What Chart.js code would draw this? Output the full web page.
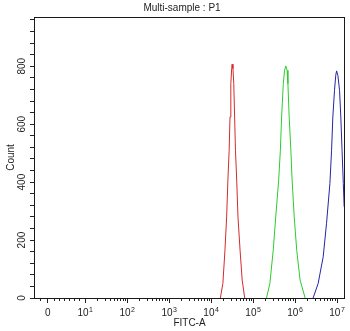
<!DOCTYPE html>
<html>
<head>
<meta charset="utf-8">
<script src="https://cdn.jsdelivr.net/npm/chart.js@4"></script>
<style>
  html, body { margin: 0; padding: 0; background: #fff; }
</style>
</head>
<body>
<canvas id="histChart" width="350" height="331"></canvas>
<script>
// Display axis for FITC-A is in decades: 10^k sits at position k
const xMin = -0.22;
const xMax = 7.19;

// Major ticks and their labels ("0", then 10^1 .. 10^7)
const majorTicks = [0.11, 1, 2, 3, 4, 5, 6, 7];
const tickBase = ["0", "10", "10", "10", "10", "10", "10", "10"];
const tickExp = ["", "1", "2", "3", "4", "5", "6", "7"];

// Minor ticks in the linear region around zero
const lowMinorTicks = [-0.07, 0.27, 0.39, 0.51, 0.63, 0.75, 0.87];

// Count axis
const yMax = 970;
const yTickStep = 40;
const yLabels = [0, 200, 400, 600, 800];

// Sample histograms (position in decades, count)
const redX = [4.22, 4.28, 4.33, 4.37, 4.40, 4.43, 4.45, 4.47, 4.49, 4.50, 4.52, 4.54, 4.56, 4.58, 4.61, 4.64, 4.69, 4.74, 4.80];
const redY = [0, 50, 165, 280, 407, 510, 625, 740, 792, 807, 792, 740, 625, 510, 407, 280, 165, 62, 0];

const greenX = [5.32, 5.40, 5.48, 5.54, 5.61, 5.65, 5.68, 5.72, 5.75, 5.78, 5.81, 5.83, 5.86, 5.90, 5.93, 5.98, 6.04, 6.12, 6.24];
const greenY = [0, 50, 165, 280, 407, 510, 625, 740, 786, 801, 786, 740, 625, 510, 407, 280, 165, 62, 0];

const blueX = [6.43, 6.55, 6.67, 6.75, 6.83, 6.87, 6.90, 6.94, 6.97, 6.99, 7.02, 7.06, 7.09, 7.12, 7.15, 7.17, 7.19];
const blueY = [0, 50, 142, 258, 395, 510, 625, 717, 769, 784, 769, 717, 625, 510, 395, 315, 317];

const textColor = "#222";
const lineFont = "Liberation Sans, Arial, sans-serif";

function points(xs, ys) {
  return xs.map((x, i) => ({ x: x, y: ys[i] }));
}

// log-spaced minor ticks inside each decade
const minorTicks = lowMinorTicks.slice();
for (let k = 1; k < 7; k++) {
  for (let m = 2; m <= 9; m++) minorTicks.push(k + Math.log10(m));
}

const yTicks = [];
for (let v = 0; v < yMax; v += yTickStep) yTicks.push(v);

// plot frame plus the hand-placed texts (title, rotated count labels, 10^k labels)
const framePlugin = {
  id: "frameAndLabels",
  afterDatasetsDraw(chart) {
    const { ctx, chartArea } = chart;
    ctx.save();
    ctx.strokeStyle = "#1a1a1a";
    ctx.lineWidth = 1;
    ctx.strokeRect(chartArea.left + 0.5, chartArea.top + 0.5,
      chartArea.right - chartArea.left - 1, chartArea.bottom - chartArea.top);
    ctx.restore();
  },
  afterDraw(chart) {
    const { ctx } = chart;
    const xs = chart.scales.x;
    const ys = chart.scales.y;
    ctx.save();
    ctx.fillStyle = textColor;

    ctx.font = "10px " + lineFont;
    ctx.textAlign = "center";
    ctx.textBaseline = "middle";
    ctx.fillText("Multi-sample : P1", 182, 8);

    // x labels with superscript exponent
    ctx.textBaseline = "alphabetic";
    majorTicks.forEach((v, i) => {
      const px = xs.getPixelForValue(v);
      ctx.font = "10px " + lineFont;
      const wb = ctx.measureText(tickBase[i]).width;
      ctx.font = "7px " + lineFont;
      const we = tickExp[i] ? ctx.measureText(tickExp[i]).width + 0.5 : 0;
      const left = px - (wb + we) / 2;
      ctx.textAlign = "left";
      ctx.font = "10px " + lineFont;
      ctx.fillText(tickBase[i], left, 316);
      if (tickExp[i]) {
        ctx.font = "7px " + lineFont;
        ctx.fillText(tickExp[i], left + wb + 0.5, 312);
      }
    });

    // rotated count labels
    ctx.font = "10px " + lineFont;
    ctx.textAlign = "center";
    ctx.textBaseline = "middle";
    yLabels.forEach(v => {
      const py = ys.getPixelForValue(v);
      ctx.save();
      ctx.translate(22, py);
      ctx.rotate(-Math.PI / 2);
      ctx.fillText(String(v), 0, 0);
      ctx.restore();
    });
    ctx.restore();
  }
};

const lineStyle = { borderWidth: 1, pointRadius: 0, tension: 0, fill: false, xAxisID: "x", yAxisID: "y" };

new Chart(document.getElementById("histChart"), {
  type: "line",
  data: {
    datasets: [
      Object.assign({ label: "red", data: points(redX, redY), borderColor: "#d42a2a" }, lineStyle),
      Object.assign({ label: "green", data: points(greenX, greenY), borderColor: "#2ccc2c" }, lineStyle),
      Object.assign({ label: "blue", data: points(blueX, blueY), borderColor: "#2424a8" }, lineStyle)
    ]
  },
  options: {
    responsive: false,
    animation: false,
    devicePixelRatio: 1,
    layout: { padding: { top: 17, right: 5, left: 0, bottom: 0 } },
    plugins: {
      legend: { display: false },
      tooltip: { enabled: false },
      title: { display: false }
    },
    scales: {
      x: {
        type: "linear",
        position: "bottom",
        min: xMin,
        max: xMax,
        weight: 1,
        afterBuildTicks: s => { s.ticks = majorTicks.map(v => ({ value: v })); },
        afterFit: s => { s.height = 33; },
        ticks: { display: false },
        border: { display: false },
        grid: { drawOnChartArea: false, drawTicks: true, tickLength: 5, tickColor: "#222" },
        title: {
          display: true,
          text: "FITC-A",
          color: textColor,
          font: { family: lineFont, size: 10 },
          padding: { top: 0, bottom: 2 }
        }
      },
      xMinor: {
        type: "linear",
        axis: "x",
        position: "bottom",
        min: xMin,
        max: xMax,
        weight: -1,
        afterBuildTicks: s => { s.ticks = minorTicks.map(v => ({ value: v })); },
        afterFit: s => { s.height = 0; },
        ticks: { display: false },
        border: { display: false },
        grid: { drawOnChartArea: false, drawTicks: true, tickLength: 3, tickColor: "#222" }
      },
      y: {
        type: "linear",
        min: 0,
        max: yMax,
        afterBuildTicks: s => { s.ticks = yTicks.map(v => ({ value: v })); },
        afterFit: s => { s.width = 34; },
        ticks: { display: false },
        border: { display: false },
        grid: { drawOnChartArea: false, drawTicks: true, tickLength: 4, tickColor: "#222" },
        title: {
          display: true,
          text: "Count",
          color: textColor,
          font: { family: lineFont, size: 10 },
          padding: { top: 5, bottom: 0 }
        }
      }
    }
  },
  plugins: [framePlugin]
});
</script>
</body>
</html>
